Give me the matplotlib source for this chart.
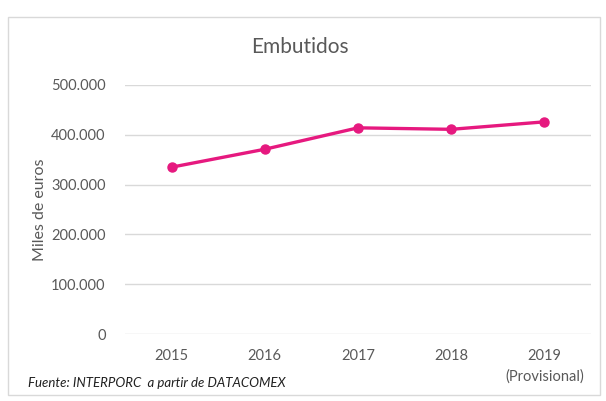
import matplotlib.pyplot as plt
from matplotlib.patches import Rectangle

years = ['2015', '2016', '2017', '2018', '2019\n(Provisional)']
valores = [335000, 371000, 414000, 411000, 426000]
yticks = [0, 100000, 200000, 300000, 400000, 500000]

plt.rcParams['font.family'] = ['Lato', 'DejaVu Sans']

fig = plt.figure(figsize=(6.06, 4.01), dpi=100)
# marco exterior del gráfico
fig.patches.append(Rectangle((8/606, 1-395/401), 592/606, 378/401, transform=fig.transFigure,
                             fill=False, edgecolor='#D9D9D9', linewidth=1))
ax = fig.add_axes([125/606, 1-334/401, 466/606, 249/401])

x = list(range(len(years)))
ax.plot(x, valores, color='#E6197F', linewidth=2.4, marker='o', markersize=6.5, zorder=3)

ax.set_xlim(-0.5, len(years) - 0.5)
ax.set_ylim(0, 500000)
ax.set_yticks(yticks)
ax.set_yticklabels([f'{v:,}'.replace(',', '.') for v in yticks])
ax.set_xticks(x)
ax.set_xticklabels(years, linespacing=1.5)
ax.grid(axis='y', color='#D9D9D9', linewidth=1)
ax.set_axisbelow(True)
for s in ax.spines.values():
    s.set_visible(False)
ax.tick_params(length=0, colors='#595959', labelsize=10.5, pad=11)
ax.tick_params(axis='y', pad=14)
ax.set_ylabel('Miles de euros', color='#595959', fontsize=11.5, labelpad=3)

fig.text(300/606, 1-47/401, 'Embutidos', ha='center', va='center', fontsize=15, color='#595959')
fig.text(28/606, 1-383/401, 'Fuente: INTERPORC  a partir de DATACOMEX', ha='left', va='center',
         fontsize=9.5, style='italic', color='#202020')

fig.savefig('out.png', dpi=100)
